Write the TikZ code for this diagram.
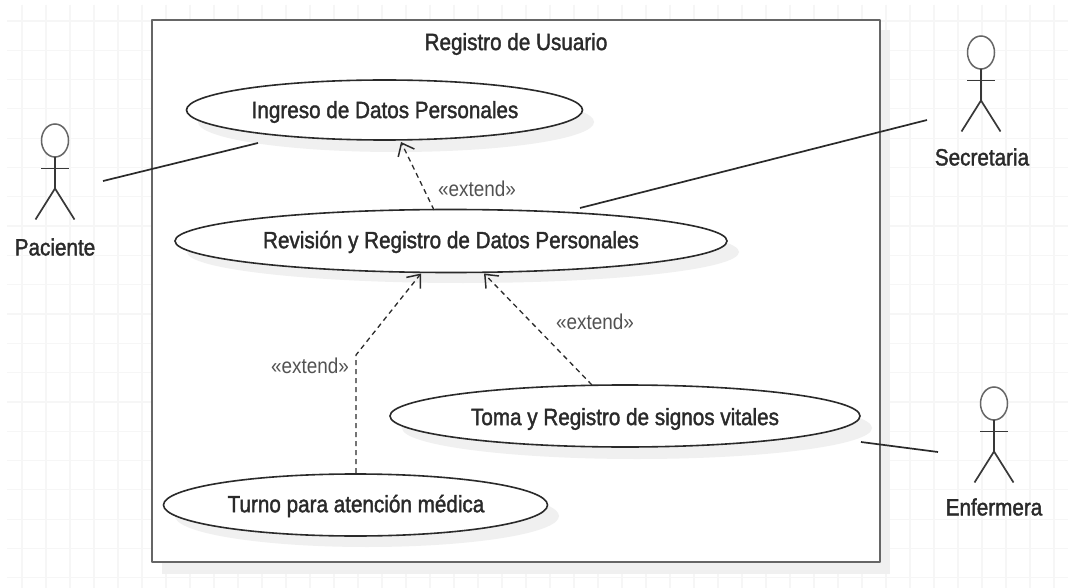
\documentclass[tikz,border=0pt]{standalone}
\usepackage{fontspec}
\setmainfont[FakeStretch=0.88]{Liberation Sans}
\newfontfamily\boldishfont[FakeStretch=0.88,FakeBold=1.6]{Liberation Sans}
\usetikzlibrary{arrows.meta}
\definecolor{gridc}{HTML}{F6F6F6}
\definecolor{shadowc}{HTML}{F0F0F0}
\definecolor{framec}{HTML}{666666}
\definecolor{inkc}{HTML}{2A2A2A}
\tikzset{
  x=1pt,y=-1pt,
  gridline/.style={gridc,line width=1.2pt},
  frameline/.style={framec,line width=2.4pt,line join=round},
  shadowfill/.style={fill=shadowc,draw=none},
  caselabel/.style={font=\boldishfont\fontsize{23.5}{28}\selectfont,text=inkc,inner sep=0pt},
  ucase/.style={draw=inkc,fill=white,line width=1.6pt},
  actorlabel/.style={font=\boldishfont\fontsize{23.5}{28}\selectfont,text=inkc,inner sep=0pt},
  extlabel/.style={font=\fontsize{21.5}{26}\selectfont,text=black!68,inner sep=0pt},
  assoc/.style={inkc,line width=1.7pt},
  extarrow/.style={inkc,line width=1.3pt,dashed,dash pattern=on 5pt off 4pt,-{Straight Barb[length=11pt,width=18pt,line width=1.5pt]}},
  actorline/.style={black!78,line width=1.7pt},
  actorhead/.style={black!60,line width=1.5pt,fill=white}
}
\newcommand{\actorfig}[2]{%
  \begin{scope}[shift={(#1,#2)}]
    \draw[actorhead] (0,0) ellipse [x radius=13.5,y radius=16.5];
    \draw[actorline] (0,16.5) -- (0,48);
    \draw[actorline] (-14,28) -- (14,28);
    \draw[actorline] (-19.5,79) -- (0,48) -- (19.5,79);
  \end{scope}}
\begin{document}
\begin{tikzpicture}
\useasboundingbox (0,0) rectangle (1068,588);
\fill[white] (0,0) rectangle (1068,588);
\foreach \gx in {22,46,...,1066} \draw[gridline] (\gx,5) -- (\gx,588);
\foreach \gy in {21,50.3,79.6,108.9,138.2,167.5,196.8,226.1,255.4,284.7,314,343.3,372.6,401.9,431.2,460.5,489.8,519.1,548.4,577.7} \draw[gridline] (7,\gy) -- (1068,\gy);
% frame
\fill[shadowc] (162,30) rectangle (890,574);
\fill[white] (152,20) rectangle (880,562);
\draw[frameline] (152,20) rectangle (880,562);
\node[caselabel] (title) at (516,44) {Registro de Usuario};
% shadows
\fill[shadowfill] (396,122) ellipse [x radius=198,y radius=30];
\fill[shadowfill] (463,252) ellipse [x radius=276,y radius=31];
\fill[shadowfill] (637,428) ellipse [x radius=235,y radius=31];
\fill[shadowfill] (367,516) ellipse [x radius=192,y radius=31];
% use cases
\draw[ucase] (384.5,110) ellipse [x radius=198,y radius=30];
\coordinate (ingresoTip) at (401,142);
\coordinate (ingresoA) at (258,143);
\node[caselabel] (ingreso) at (385,112) {Ingreso de Datos Personales};
\draw[ucase] (451,241) ellipse [x radius=276,y radius=31.5];
\node[caselabel] (revision) at (451,242) {Revisión y Registro de Datos Personales};
\coordinate (revTop) at (434,210);
\coordinate (revSec) at (580,208);
\coordinate (revL) at (421,273.5);
\coordinate (revR) at (484,273.5);
\draw[ucase] (625,416) ellipse [x radius=235,y radius=31];
\node[caselabel] (toma) at (625,419) {Toma y Registro de signos vitales};
\coordinate (tomaTop) at (592,385);
\coordinate (tomaE) at (861,442);
\draw[ucase] (355.5,505) ellipse [x radius=192,y radius=31];
\node[caselabel] (turno) at (356,506) {Turno para atención médica};
\coordinate (turnoTop) at (356,473);
\coordinate (bend) at (356,355);
% actors
\actorfig{55}{140.5}
\node[actorlabel] (paciente) at (55,247) {Paciente};
\coordinate (pacA) at (103,181);
\actorfig{981}{52.5}
\node[actorlabel] (secretaria) at (982,157) {Secretaria};
\coordinate (secA) at (927,120);
\actorfig{994}{403.5}
\node[actorlabel] (enfermera) at (994,507) {Enfermera};
\coordinate (enfA) at (938,452);
% connectors
\draw[assoc] (pacA) -- (ingresoA);
\draw[assoc] (secA) -- (revSec);
\draw[assoc] (enfA) -- (tomaE);
\draw[extarrow] (revTop) -- (ingresoTip);
\draw[extarrow] (tomaTop) -- (revR);
\draw[extarrow] (turnoTop) -- (bend) -- (revL);
\node[extlabel] (ext1) at (477,189) {«extend»};
\node[extlabel] (ext2) at (595,322) {«extend»};
\node[extlabel] (ext3) at (310,366) {«extend»};
\end{tikzpicture}
\end{document}
